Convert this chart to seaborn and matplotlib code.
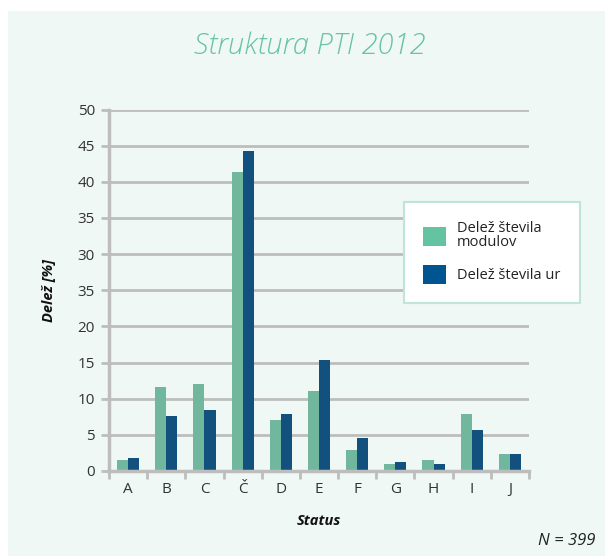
import matplotlib
matplotlib.use("Agg")
import matplotlib.pyplot as plt
import matplotlib.patches as mpatches
import pandas as pd
import seaborn as sns

# ── Data ──────────────────────────────────────────────────────────────────────
categories = ["A", "B", "C", "Č", "D", "E", "F", "G", "H", "I", "J"]
modules    = [1.5, 11.6, 12.1, 41.3, 7.1, 11.0, 2.9, 0.9, 1.5, 7.9, 2.3]
hours      = [1.8, 7.6, 8.5, 44.3, 7.9, 15.4, 4.6, 1.2, 0.9, 5.7, 2.3]
series     = ["Delež števila\nmodulov", "Delež števila ur"]
yticks     = [0, 5, 10, 15, 20, 25, 30, 35, 40, 45, 50]
ytick_lbls = ["0", "5", "10", "15", "20", "35", "30", "35", "40", "45", "50"]

GREEN = "#64C3A0"
BLUE  = "#00548F"
PANEL = "#EFF8F5"
GRID  = "#BDBDBD"

df = pd.DataFrame({
    "Status": categories * 2,
    "value": modules + hours,
    "series": [series[0]] * len(categories) + [series[1]] * len(categories),
})

sns.set_style("white")
plt.rcParams["font.family"] = ["Open Sans", "DejaVu Sans"]

fig = plt.figure(figsize=(6.05, 5.56), dpi=100, facecolor="white")
# light panel behind everything
fig.patches.append(mpatches.Rectangle(
    (8 / 605, 0), 1, 1 - 11 / 556, transform=fig.transFigure,
    facecolor=PANEL, edgecolor="none", zorder=-10))

ax = fig.add_axes([109 / 605, 1 - 471 / 556, 420 / 605, 361.5 / 556])
ax.set_facecolor(PANEL)

sns.barplot(
    data=df, x="Status", y="value", hue="series",
    palette=[GREEN, BLUE], width=0.58, ax=ax,
    edgecolor="none", linewidth=0, legend=False,
)

ax.set_ylim(0, 50)
ax.set_xlim(-0.5, len(categories) - 0.5)
ax.set_yticks(yticks)
ax.set_yticklabels(ytick_lbls, fontsize=11, color="#333333")
ax.yaxis.grid(True, color=GRID, linewidth=2)
ax.set_axisbelow(True)

# x ticks at category boundaries, labels at centres
ax.set_xticks([i + 0.5 for i in range(-1, len(categories))], minor=False)
ax.set_xticklabels([""] * (len(categories) + 1))
ax.set_xticks(range(len(categories)), minor=True)
ax.set_xticklabels(categories, minor=True, fontsize=11, color="#333333")
ax.tick_params(axis="x", which="major", length=6, width=2, color=GRID,
               direction="out", bottom=True)
ax.tick_params(axis="x", which="minor", length=0, pad=8, bottom=True)
ax.tick_params(axis="y", length=6, width=2, color=GRID, pad=4, left=True)

for side in ["top", "right"]:
    ax.spines[side].set_visible(False)
for side in ["left", "bottom"]:
    ax.spines[side].set_color(GRID)
    ax.spines[side].set_linewidth(2.5)

ax.set_xlabel("Status", fontsize=10.5, fontweight="bold", style="italic",
              labelpad=12, color="#111111")
ax.set_ylabel("Delež [%]", fontsize=10.5, fontweight="bold", style="italic",
              labelpad=16, color="#111111")

fig.text(310 / 605, 1 - 46 / 556, "Struktura PTI 2012", ha="center",
         va="center", fontsize=21, style="italic", fontweight="light",
         color="#68C4A2")
fig.text(595 / 605, 1 - 541 / 556, "N = 399", ha="right", va="center",
         fontsize=12, style="italic", color="#222222")

handles = [mpatches.Patch(facecolor=GREEN, edgecolor="none"),
           mpatches.Patch(facecolor=BLUE, edgecolor="none")]
leg = fig.legend(
    handles, series, loc="upper left",
    bbox_to_anchor=(404 / 605, 1 - 202 / 556),
    fontsize=10.5, frameon=True, fancybox=False, framealpha=1,
    handlelength=1.6, handleheight=1.6, handletextpad=0.75,
    borderpad=1.3, labelspacing=1.0, borderaxespad=0,
)
leg.get_frame().set_edgecolor("#BFE5D8")
leg.get_frame().set_linewidth(1.5)
leg.get_frame().set_facecolor("white")
for t in leg.get_texts():
    t.set_color("#222222")
    t.set_linespacing(0.95)

fig.savefig("out.png", dpi=100, facecolor="white")
